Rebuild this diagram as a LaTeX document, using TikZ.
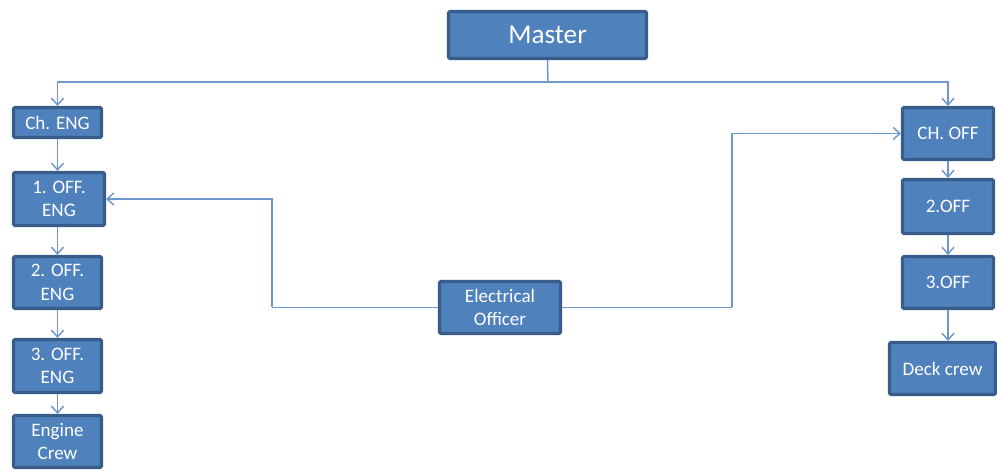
\documentclass[tikz,border=0pt]{standalone}
\usepackage{fontspec}
\setmainfont{Carlito}
\usetikzlibrary{arrows.meta}
\definecolor{boxfill}{HTML}{4F81BD}
\definecolor{boxline}{HTML}{385D8A}
\definecolor{connline}{HTML}{7097CC}
\tikzset{
  orgbox/.style={draw=boxline, fill=boxfill, line width=2.3pt, rounded corners=1pt,
    text=white, align=center, inner sep=0pt,
    font=\fontsize{14.3}{17.5}\selectfont},
  conn/.style={draw=connline, line width=1.1pt},
  arr/.style={conn, -{Straight Barb[length=5pt,width=9pt]}},
}
\begin{document}
\begin{tikzpicture}[x=0.75pt,y=-0.75pt]
\useasboundingbox (0,0) rectangle (997,470);
% boxes (centres in pixel coordinates; sizes minus border)
\node[orgbox, minimum width=198*0.75pt, minimum height=47*0.75pt, font=\fontsize{20.4}{24}\selectfont] (master) at (547.5,35) {Master};
\node[orgbox, minimum width=88*0.75pt, minimum height=30*0.75pt] (cheng) at (57.5,122.5) {Ch. ENG};
\node[orgbox, minimum width=91*0.75pt, minimum height=53*0.75pt] (off1) at (59,199) {1. OFF.\\ENG};
\node[orgbox, minimum width=88*0.75pt, minimum height=52*0.75pt] (off2) at (57.5,282.5) {2. OFF.\\ENG};
\node[orgbox, minimum width=88*0.75pt, minimum height=53*0.75pt] (off3) at (57.5,366) {3. OFF.\\ENG};
\node[orgbox, minimum width=88*0.75pt, minimum height=52*0.75pt] (engcrew) at (57.5,441.5) {Engine\\Crew};
\node[orgbox, minimum width=121*0.75pt, minimum height=52*0.75pt] (elec) at (500,307.5) {Electrical\\Officer};
\node[orgbox, minimum width=91*0.75pt, minimum height=52*0.75pt] (choff) at (948,133.5) {CH. OFF};
\node[orgbox, minimum width=91*0.75pt, minimum height=54*0.75pt] (doff2) at (948,206.5) {2.OFF};
\node[orgbox, minimum width=91*0.75pt, minimum height=52*0.75pt] (doff3) at (948,282.5) {3.OFF};
\node[orgbox, minimum width=106*0.75pt, minimum height=52*0.75pt] (deck) at (942.5,368.5) {Deck crew};
% junctions
\coordinate (bus) at (548,82);
\coordinate (lj) at (272,307.5);
\coordinate (rj) at (732,307.5);
% connectors
\draw[conn] (master.south) -- (bus);
\draw[arr] (bus) -| (cheng.north);
\draw[arr] (bus) -| (choff.north);
\draw[arr] (cheng.south) -- (cheng.south |- off1.north);
\draw[arr] (off1.south -| off2.north) -- (off2.north);
\draw[arr] (off2.south) -- (off3.north);
\draw[arr] (off3.south) -- (engcrew.north);
\draw[arr] (choff.south) -- (doff2.north);
\draw[arr] (doff2.south) -- (doff3.north);
\draw[arr] (doff3.south) -- (doff3.south |- deck.north);
\draw[conn] (elec.west) -- (lj);
\draw[arr] (lj) |- (off1.east);
\draw[conn] (elec.east) -- (rj);
\draw[arr] (rj) |- (choff.west);
\end{tikzpicture}
\end{document}
